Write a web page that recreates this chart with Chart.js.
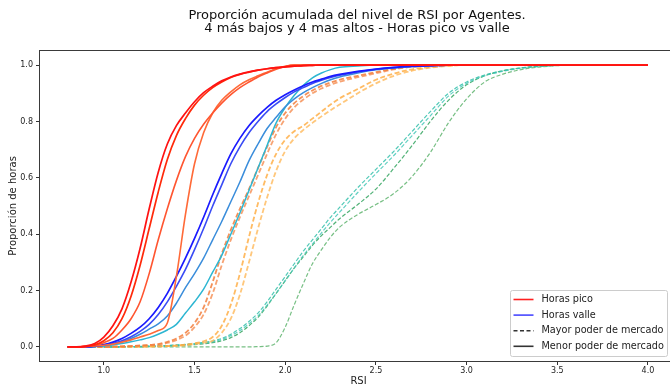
<!DOCTYPE html>
<html>
<head>
<meta charset="utf-8">
<script src="https://cdn.jsdelivr.net/npm/chart.js@4.4.0/dist/chart.umd.min.js"></script>
<style>
    html, body { margin: 0; padding: 0; background: #fff; overflow: hidden; }
    /* un poco mas ancho que la ventana: el eje derecho queda recortado como en la figura original */
    #wrap { width: 680px; height: 387px; }
</style>
</head>
<body>
<div id="wrap"><canvas id="rsiChart"></canvas></div>
<script>
// eje x (nivel de RSI)
const rsi = [0.80, 0.85, 0.90, 0.95, 1.00, 1.05, 1.10, 1.15, 1.20, 1.25, 1.30, 1.35, 1.40, 1.45, 1.50, 1.55,
    1.60, 1.65, 1.70, 1.75, 1.80, 1.85, 1.90, 1.95, 2.00, 2.05, 2.10, 2.15, 2.20, 2.25, 2.30,
    2.4, 2.5, 2.6, 2.7, 2.8, 2.9, 3.0, 3.1, 3.2, 3.3, 3.4, 3.5, 3.6, 3.7, 3.8, 3.9, 4.0];

const xTicks = [1.0, 1.5, 2.0, 2.5, 3.0, 3.5, 4.0];
const yTicks = [0.0, 0.2, 0.4, 0.6, 0.8, 1.0];

// horas pico - menor poder de mercado (linea continua)
const picoMenor1 = [0, 0, 0.003, 0.012, 0.035, 0.075, 0.135, 0.23, 0.35, 0.49, 0.62, 0.72, 0.785, 0.83, 0.87, 0.902, 0.925, 0.944, 0.958, 0.968, 0.976, 0.982, 0.987, 0.991, 0.994, 0.996, 0.998, 0.999, 1, 1, 1, 1, 1, 1, 1, 1, 1, 1, 1, 1, 1, 1, 1, 1, 1, 1, 1, 1];
const picoMenor2 = [0, 0, 0.002, 0.007, 0.022, 0.05, 0.10, 0.18, 0.29, 0.42, 0.55, 0.665, 0.75, 0.81, 0.858, 0.893, 0.92, 0.94, 0.956, 0.967, 0.975, 0.982, 0.987, 0.991, 0.994, 0.996, 0.998, 0.999, 1, 1, 1, 1, 1, 1, 1, 1, 1, 1, 1, 1, 1, 1, 1, 1, 1, 1, 1, 1];
const picoMenor3 = [0, 0, 0.002, 0.006, 0.015, 0.03, 0.06, 0.10, 0.16, 0.26, 0.38, 0.49, 0.59, 0.675, 0.74, 0.79, 0.83, 0.865, 0.895, 0.92, 0.94, 0.958, 0.972, 0.985, 0.995, 1, 1, 1, 1, 1, 1, 1, 1, 1, 1, 1, 1, 1, 1, 1, 1, 1, 1, 1, 1, 1, 1, 1];
const picoMenor4 = [0, 0, 0.001, 0.003, 0.006, 0.01, 0.017, 0.025, 0.035, 0.045, 0.058, 0.085, 0.25, 0.47, 0.65, 0.76, 0.83, 0.875, 0.905, 0.93, 0.948, 0.962, 0.975, 0.988, 0.996, 1, 1, 1, 1, 1, 1, 1, 1, 1, 1, 1, 1, 1, 1, 1, 1, 1, 1, 1, 1, 1, 1, 1];

// horas valle - menor poder de mercado (linea continua)
const valleMenor1 = [0, 0, 0, 0.003, 0.008, 0.017, 0.03, 0.048, 0.07, 0.10, 0.14, 0.19, 0.25, 0.315, 0.385, 0.46, 0.54, 0.615, 0.685, 0.74, 0.785, 0.82, 0.85, 0.875, 0.895, 0.912, 0.927, 0.94, 0.95, 0.96, 0.967, 0.978, 0.986, 0.992, 0.996, 0.998, 1, 1, 1, 1, 1, 1, 1, 1, 1, 1, 1, 1];
const valleMenor2 = [0, 0, 0, 0.002, 0.006, 0.012, 0.022, 0.036, 0.055, 0.08, 0.115, 0.16, 0.215, 0.275, 0.345, 0.42, 0.50, 0.575, 0.65, 0.71, 0.76, 0.80, 0.835, 0.862, 0.885, 0.905, 0.92, 0.935, 0.946, 0.956, 0.964, 0.976, 0.985, 0.991, 0.995, 0.998, 1, 1, 1, 1, 1, 1, 1, 1, 1, 1, 1, 1];
const valleMenor3 = [0, 0, 0, 0.002, 0.005, 0.01, 0.018, 0.03, 0.045, 0.063, 0.082, 0.11, 0.155, 0.21, 0.26, 0.315, 0.38, 0.445, 0.515, 0.585, 0.66, 0.72, 0.775, 0.815, 0.852, 0.88, 0.902, 0.92, 0.935, 0.948, 0.958, 0.972, 0.983, 0.99, 0.995, 0.998, 1, 1, 1, 1, 1, 1, 1, 1, 1, 1, 1, 1];
const valleMenor4 = [0, 0, 0, 0.001, 0.004, 0.007, 0.012, 0.018, 0.025, 0.033, 0.045, 0.06, 0.08, 0.12, 0.16, 0.205, 0.265, 0.325, 0.40, 0.475, 0.555, 0.635, 0.715, 0.795, 0.85, 0.893, 0.928, 0.955, 0.972, 0.984, 0.992, 0.997, 1, 1, 1, 1, 1, 1, 1, 1, 1, 1, 1, 1, 1, 1, 1, 1];

// horas pico - mayor poder de mercado (linea discontinua)
const picoMayor1 = [0, 0, 0, 0, 0, 0.001, 0.002, 0.003, 0.005, 0.007, 0.01, 0.018, 0.03, 0.05, 0.085, 0.14, 0.23, 0.33, 0.415, 0.49, 0.56, 0.635, 0.71, 0.78, 0.83, 0.865, 0.89, 0.91, 0.926, 0.938, 0.948, 0.962, 0.975, 0.987, 0.995, 0.999, 1, 1, 1, 1, 1, 1, 1, 1, 1, 1, 1, 1];
const picoMayor2 = [0, 0, 0, 0, 0, 0.001, 0.002, 0.003, 0.004, 0.006, 0.008, 0.014, 0.024, 0.04, 0.07, 0.115, 0.19, 0.29, 0.38, 0.46, 0.535, 0.61, 0.685, 0.755, 0.81, 0.85, 0.878, 0.90, 0.917, 0.93, 0.941, 0.957, 0.971, 0.985, 0.994, 0.998, 1, 1, 1, 1, 1, 1, 1, 1, 1, 1, 1, 1];
const picoMayor3 = [0, 0, 0, 0, 0, 0, 0, 0.001, 0.001, 0.002, 0.002, 0.003, 0.005, 0.008, 0.013, 0.02, 0.035, 0.075, 0.15, 0.26, 0.39, 0.51, 0.61, 0.685, 0.735, 0.765, 0.785, 0.81, 0.835, 0.86, 0.882, 0.915, 0.948, 0.97, 0.985, 0.993, 0.998, 1, 1, 1, 1, 1, 1, 1, 1, 1, 1, 1];
const picoMayor4 = [0, 0, 0, 0, 0, 0, 0, 0, 0.001, 0.001, 0.002, 0.003, 0.004, 0.006, 0.01, 0.015, 0.022, 0.05, 0.10, 0.185, 0.30, 0.42, 0.53, 0.625, 0.695, 0.74, 0.77, 0.795, 0.818, 0.84, 0.86, 0.90, 0.935, 0.962, 0.98, 0.991, 0.997, 1, 1, 1, 1, 1, 1, 1, 1, 1, 1, 1];

// horas valle - mayor poder de mercado (linea discontinua)
const valleMayor1 = [0, 0, 0, 0, 0, 0, 0, 0.001, 0.002, 0.003, 0.004, 0.005, 0.007, 0.009, 0.012, 0.016, 0.021, 0.03, 0.045, 0.065, 0.09, 0.12, 0.16, 0.205, 0.25, 0.295, 0.34, 0.38, 0.42, 0.46, 0.495, 0.565, 0.63, 0.695, 0.765, 0.835, 0.90, 0.94, 0.965, 0.98, 0.99, 0.996, 0.999, 1, 1, 1, 1, 1];
const valleMayor2 = [0, 0, 0, 0, 0, 0, 0, 0.001, 0.001, 0.002, 0.003, 0.004, 0.006, 0.008, 0.01, 0.013, 0.018, 0.026, 0.04, 0.058, 0.082, 0.11, 0.148, 0.19, 0.235, 0.28, 0.325, 0.365, 0.405, 0.443, 0.478, 0.548, 0.615, 0.68, 0.75, 0.82, 0.89, 0.935, 0.962, 0.978, 0.989, 0.995, 0.999, 1, 1, 1, 1, 1];
const valleMayor3 = [0, 0, 0, 0, 0, 0, 0, 0.001, 0.001, 0.002, 0.003, 0.004, 0.005, 0.006, 0.008, 0.011, 0.015, 0.022, 0.033, 0.05, 0.075, 0.105, 0.145, 0.19, 0.235, 0.28, 0.32, 0.36, 0.395, 0.425, 0.455, 0.505, 0.56, 0.635, 0.715, 0.80, 0.875, 0.93, 0.962, 0.98, 0.99, 0.996, 1, 1, 1, 1, 1, 1];
const valleMayor4 = [0, 0, 0, 0, 0, 0, 0, 0, 0, 0, 0, 0, 0, 0, 0, 0, 0, 0, 0, 0, 0, 0.001, 0.003, 0.015, 0.07, 0.15, 0.225, 0.295, 0.345, 0.39, 0.425, 0.47, 0.505, 0.545, 0.605, 0.69, 0.795, 0.88, 0.94, 0.968, 0.984, 0.993, 0.998, 1, 1, 1, 1, 1];

const series = [
    { data: picoMenor1, color: '#ff1212', dash: [], width: 1.7 },
    { data: picoMenor2, color: '#ff2a0a', dash: [], width: 1.7 },
    { data: picoMenor3, color: '#ff5530', dash: [], width: 1.6 },
    { data: picoMenor4, color: '#ff6a38', dash: [], width: 1.6 },
    { data: valleMenor1, color: '#1a1aff', dash: [], width: 1.7 },
    { data: valleMenor2, color: '#3a4cf5', dash: [], width: 1.6 },
    { data: valleMenor3, color: '#3a8ddb', dash: [], width: 1.5 },
    { data: valleMenor4, color: '#2db6d2', dash: [], width: 1.5 },
    { data: picoMayor1, color: 'rgba(242,126,60,0.85)', dash: [5, 2.5], width: 1.8 },
    { data: picoMayor2, color: 'rgba(245,140,80,0.8)', dash: [5, 2.5], width: 1.8 },
    { data: picoMayor3, color: 'rgba(255,170,60,0.8)', dash: [5, 2.5], width: 1.8 },
    { data: picoMayor4, color: 'rgba(255,185,90,0.8)', dash: [5, 2.5], width: 1.8 },
    { data: valleMayor1, color: 'rgba(50,192,170,0.85)', dash: [4, 2], width: 1.2 },
    { data: valleMayor2, color: 'rgba(70,200,185,0.85)', dash: [4, 2], width: 1.2 },
    { data: valleMayor3, color: 'rgba(50,165,95,0.85)', dash: [4, 2], width: 1.2 },
    { data: valleMayor4, color: 'rgba(95,180,110,0.85)', dash: [4, 2], width: 1.2 }
];

const leyenda = [
    { text: 'Horas pico', color: '#ff2020', dash: [] },
    { text: 'Horas valle', color: '#4848ff', dash: [] },
    { text: 'Mayor poder de mercado', color: '#333', dash: [4, 2.5] },
    { text: 'Menor poder de mercado', color: '#333', dash: [] }
];

const titulo = ['Proporción acumulada del nivel de RSI por Agentes.', '4 más bajos y 4 mas altos - Horas pico vs valle'];

const FONT = "'DejaVu Sans', sans-serif";

// marco, titulo y leyenda estilo matplotlib
const extras = {
    id: 'extras',
    afterDatasetsDraw(chart) {
        const { ctx, chartArea: a } = chart;
        ctx.save();
        ctx.strokeStyle = '#3a3a3a';
        ctx.lineWidth = 1;
        ctx.strokeRect(Math.round(a.left) - 0.5, Math.round(a.top) - 0.5, Math.round(a.right - a.left) + 1, Math.round(a.bottom - a.top) + 1);

        // titulo
        ctx.fillStyle = '#111';
        ctx.font = '13px ' + FONT;
        ctx.textAlign = 'center';
        ctx.textBaseline = 'alphabetic';
        const cx = 357;
        ctx.fillText(titulo[0], cx, 18.5);
        ctx.fillText(titulo[1], cx, 32);

        // leyenda
        const w = 157, h = 66;
        const lx = 510.5, ly = a.bottom - 4.5 - h;
        ctx.fillStyle = 'rgba(255,255,255,0.85)';
        ctx.strokeStyle = '#cccccc';
        ctx.beginPath();
        ctx.roundRect(lx, ly, w, h, 2);
        ctx.fill();
        ctx.stroke();
        ctx.font = '9.7px ' + FONT;
        ctx.textAlign = 'left';
        ctx.textBaseline = 'middle';
        leyenda.forEach((item, i) => {
            const y = ly + 9 + i * 15.6;
            ctx.beginPath();
            ctx.setLineDash(item.dash);
            ctx.strokeStyle = item.color;
            ctx.lineWidth = 1.6;
            ctx.moveTo(lx + 3, y);
            ctx.lineTo(lx + 23, y);
            ctx.stroke();
            ctx.setLineDash([]);
            ctx.fillStyle = '#222';
            ctx.fillText(item.text, lx + 31, y);
        });
        ctx.restore();
    }
};

const ctx = document.getElementById('rsiChart').getContext('2d');
const rsiChart = new Chart(ctx, {
    type: 'line',
    data: {
        datasets: series.map(s => ({
            data: rsi.map((x, i) => ({ x: x, y: s.data[i] })),
            borderColor: s.color,
            borderWidth: s.width,
            borderDash: s.dash,
            pointRadius: 0,
            fill: false,
            cubicInterpolationMode: 'monotone'
        }))
    },
    options: {
        responsive: true,
        maintainAspectRatio: false,
        animation: false,
        layout: { padding: { top: 51, right: 3, left: 0, bottom: 0 } },
        plugins: {
            legend: { display: false },
            title: { display: false },
            tooltip: { enabled: false }
        },
        scales: {
            x: {
                type: 'linear',
                min: 0.648,
                max: 4.16,
                afterBuildTicks: s => { s.ticks = xTicks.map(v => ({ value: v })); },
                afterFit: s => { s.height = 26; },
                grid: { drawOnChartArea: false, tickLength: 4, tickColor: '#333' },
                border: { display: false },
                ticks: {
                    padding: 1,
                    color: '#222',
                    font: { family: FONT, size: 8 },
                    maxRotation: 0,
                    callback: v => v.toFixed(1)
                },
                title: {
                    display: true,
                    text: 'RSI',
                    color: '#222',
                    font: { family: FONT, size: 10 },
                    padding: { top: 0, bottom: 0 }
                }
            },
            y: {
                min: -0.05,
                max: 1.05,
                afterBuildTicks: s => { s.ticks = yTicks.map(v => ({ value: v })); },
                afterFit: s => { s.width = 40; },
                grid: { drawOnChartArea: false, tickLength: 4, tickColor: '#333' },
                border: { display: false },
                ticks: {
                    padding: 3,
                    color: '#222',
                    font: { family: FONT, size: 8 },
                    callback: v => v.toFixed(1)
                },
                title: {
                    display: true,
                    text: 'Proporción de horas',
                    color: '#222',
                    font: { family: FONT, size: 10 },
                    padding: { top: 7, bottom: 0 }
                }
            }
        }
    },
    plugins: [extras]
});
</script>
</body>
</html>
